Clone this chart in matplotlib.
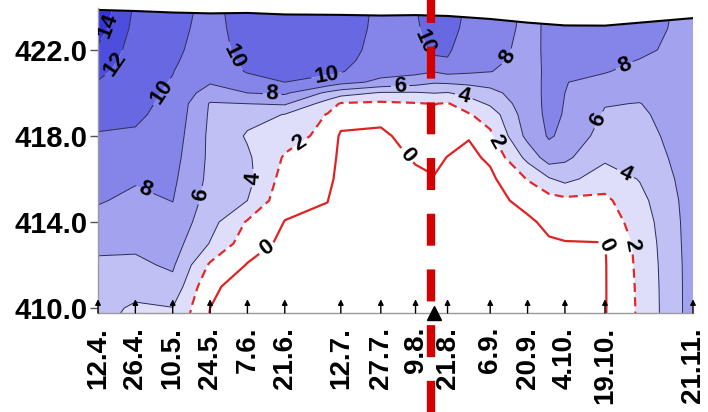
import numpy as np
import matplotlib
matplotlib.use("Agg")
import matplotlib.pyplot as plt
from matplotlib.transforms import blended_transform_factory

plt.rcParams['font.family'] = ['Liberation Sans', 'DejaVu Sans']
plt.rcParams['lines.scale_dashes'] = False

# sampling dates (day of year) and their labels
sample_days = [102, 116, 130, 144, 158, 172, 193, 208, 221, 233, 249, 263, 277, 292, 325]
sample_labels = ['12.4.', '26.4.', '10.5.', '24.5.', '7.6.', '21.6.', '12.7.', '27.7.',
                 '9.8.', '21.8.', '6.9.', '20.9.', '4.10.', '19.10.', '21.11.']
# water surface elevation at each sampling date
surface_level = [423.86, 423.81, 423.74, 423.70, 423.72, 423.65, 423.63, 423.60,
                 423.62, 423.58, 423.44, 423.27, 423.14, 423.13, 423.48]

# temperature grid (columns = days, rows = elevations top->bottom)
grid_days = [102, 116, 130, 144, 158, 172, 188, 193, 208, 221, 228, 233, 241, 249,
             263, 271, 277, 292, 305, 325]
grid_elev = [424, 423, 422, 421.5, 421, 420.5, 420, 419.5, 419, 418, 417, 416, 415,
             414, 413, 412, 411, 410, 409.5]
temp_profiles = [
    [15.5, 14.9, 13.7, 13.1, 12.5, 11.9, 11.5, 11.05, 10.6, 9.85, 9.3, 8.7, 8.17, 7.35, 6.4, 5.7, 5.2, 4.7, 4.5],
    [11.7, 11.4, 11.1, 11.0, 10.9, 10.75, 10.6, 10.45, 10.3, 9.78, 9.0, 8.2, 7.56, 6.96, 6.35, 5.64, 4.78, 3.7, 3.5],
    [11.0, 10.7, 10.4, 10.25, 10.05, 9.89, 9.72, 9.55, 9.38, 9.05, 8.7, 8.37, 8.04, 7.47, 6.87, 6.28, 5.38, 3.95, 3.7],
    [9.3, 9.2, 9.1, 8.9, 8.6, 8.2, 7.0, 5.85, 5.75, 5.6, 5.6, 5.5, 5.2, 4.7, 3.9, 1.7, 0.35, 0.0, -0.15],
    [11.2, 11.0, 10.7, 10.45, 10.15, 9.2, 8.0, 6.0, 4.6, 3.8, 4.3, 4.6, 4.0, 1.8, 0.87, -0.1, -0.8, -0.9, -0.9],
    [11.6, 11.4, 11.0, 10.75, 10.45, 10.0, 8.3, 6.25, 3.95, 2.8, 1.8, 1.17, 0.56, -0.05, -0.4, -0.6, -0.7, -0.8, -0.8],
    [11.5, 11.3, 11.0, 10.7, 10.35, 9.3, 5.6, 3.1, 1.9, 1.45, 0.95, 0.5, 0.03, -0.3, -0.5, -0.6, -0.7, -0.8, -0.8],
    [11.4, 11.2, 10.9, 10.6, 10.15, 8.6, 4.9, 1.8, 1.0, -0.3, -0.5, -0.6, -0.7, -0.8, -0.8, -0.9, -0.9, -1.0, -1.0],
    [9.5, 9.4, 9.2, 9.0, 8.6, 7.6, 3.8, 1.6, 0.6, -0.4, -0.6, -0.7, -0.8, -0.8, -0.9, -0.9, -1.0, -1.0, -1.0],
    [9.9, 9.6, 9.3, 9.0, 8.5, 6.9, 3.8, 1.85, 1.4, 0.85, 0.15, -0.3, -0.5, -0.6, -0.7, -0.8, -0.8, -0.9, -0.9],
    [11.6, 11.2, 10.4, 9.6, 8.1, 6.2, 4.05, 2.05, 1.6, 1.0, 0.45, -0.1, -0.4, -0.5, -0.6, -0.7, -0.8, -0.8, -0.8],
    [10.6, 10.5, 10.2, 9.9, 8.6, 6.3, 3.9, 1.85, 1.45, 0.8, -0.05, -0.4, -0.6, -0.7, -0.7, -0.8, -0.8, -0.9, -0.9],
    [9.8, 9.6, 9.2, 8.8, 8.3, 6.5, 4.6, 3.1, 1.85, 0.1, -0.4, -0.6, -0.7, -0.7, -0.8, -0.8, -0.9, -0.9, -0.9],
    [9.3, 9.1, 8.8, 8.5, 8.05, 6.7, 5.4, 4.3, 2.9, 1.6, 0.3, -0.4, -0.6, -0.7, -0.7, -0.8, -0.8, -0.8, -0.8],
    [7.6, 7.5, 7.35, 7.3, 7.25, 7.2, 7.2, 7.15, 7.1, 6.6, 4.6, 2.1, 0.55, -0.3, -0.5, -0.6, -0.6, -0.7, -0.7],
    [8.2, 8.3, 8.4, 8.4, 8.4, 8.45, 8.45, 8.45, 8.4, 8.2, 7.0, 3.8, 1.2, 0.4, -0.2, -0.4, -0.5, -0.5, -0.5],
    [8.9, 8.8, 8.6, 8.4, 8.2, 8.05, 8.0, 7.95, 7.9, 7.6, 6.4, 4.6, 1.5, 0.75, -0.1, -0.3, -0.4, -0.5, -0.5],
    [8.8, 8.7, 8.5, 8.3, 8.1, 7.5, 6.8, 6.1, 5.8, 5.1, 4.4, 2.9, 1.6, 0.9, -0.05, -0.1, -0.1, -0.1, -0.1],
    [8.6, 8.5, 8.25, 7.95, 7.5, 7.0, 6.45, 5.95, 5.7, 5.3, 4.8, 4.1, 3.4, 2.9, 2.6, 2.45, 2.35, 2.3, 2.3],
    [7.6, 7.55, 7.5, 7.45, 7.4, 7.35, 7.3, 7.25, 7.2, 7.1, 7.05, 7.0, 6.95, 6.95, 6.95, 6.9, 6.9, 6.9, 6.9],
]
fill_levels = [-5, 2, 4, 6, 8, 10, 12, 14, 20]
fill_colors = ['#ffffff', '#dedefa', '#c0c0f4', '#a2a2ef', '#8585e9', '#6868e3', '#4e4ede', '#3535d8']
line_levels = [4, 6, 8, 10, 12, 14]
marker_day = 228
section_day = 226.7

# label anchor positions (day, elevation)
label_pos_black = [(104.6, 423.16), (109.1, 421.3), (126.0, 420.05), (152.2, 421.63),
                   (187.8, 420.74), (226.4, 422.47), (121.5, 416.09), (167.2, 419.9),
                   (253.8, 421.77), (299.5, 421.2), (144.0, 415.16), (215.2, 420.37),
                   (287.5, 418.88), (161.6, 416.05), (238.8, 419.67), (300.3, 416.42)]
label_pos_two = [(175.1, 418.14), (252.7, 417.81), (302.1, 412.93)]
label_pos_zero = [(163.8, 413.02), (218.9, 417.21), (291.3, 412.93)]

W, H = 708, 412
fig = plt.figure(figsize=(W / 100, H / 100), dpi=100)
ax = fig.add_axes([98 / W, 1 - 313 / H, (693 - 98) / W, (313 - 8) / H])

X = np.array(grid_days, dtype=float)
Y = np.array(grid_elev[::-1], dtype=float)
T = np.array(temp_profiles, dtype=float).T[::-1, :]

ax.contourf(X, Y, T, levels=fill_levels, colors=fill_colors, antialiased=True)
cs_lines = ax.contour(X, Y, T, levels=line_levels, colors='#2a2a55', linewidths=0.7)
cs_two = ax.contour(X, Y, T, levels=[2], colors='#e02a2a', linewidths=1.6,
                    linestyles=[(0, (6.5, 3.8))])
cs_zero = ax.contour(X, Y, T, levels=[0], colors='#e02222', linewidths=1.6)

lab_kw = dict(fmt='%d', fontsize=16, colors='black', inline=True, inline_spacing=3)
for cs, pos in [(cs_lines, label_pos_black), (cs_two, label_pos_two), (cs_zero, label_pos_zero)]:
    txts = ax.clabel(cs, manual=pos, **lab_kw)
    for t in txts:
        t.set_fontweight('bold')

# blank above the water surface and the surface line
ax.fill_between(sample_days, surface_level, 426, color='white', zorder=2.5, lw=0)
ax.plot(sample_days, surface_level, color='black', lw=1.5, zorder=2.6)

ax.set_xlim(102, 325)
ax.set_ylim(409.77, 423.95)

ax.set_yticks([410, 414, 418, 422])
ax.set_yticklabels(['410.0', '414.0', '418.0', '422.0'], fontsize=21, fontweight='bold')
ax.tick_params(axis='y', direction='out', length=6, width=1, pad=1.5, colors='#555555',
               labelcolor='black')
ax.set_xticks(sample_days)
ax.set_xticklabels(sample_labels, rotation=90, fontsize=20, fontweight='bold')
ax.tick_params(axis='x', length=0, pad=10)

for s in ['top', 'right']:
    ax.spines[s].set_visible(False)
for s in ['left', 'bottom']:
    ax.spines[s].set_color('#9a9a9a')
    ax.spines[s].set_linewidth(1)
    ax.spines[s].set_zorder(3)

# sampling arrows on the bottom axis
bt = blended_transform_factory(ax.transData, ax.transAxes)
for d in sample_days:
    ax.annotate('', xy=(d, 0.045), xytext=(d, 0.0), xycoords=bt, textcoords=bt,
                arrowprops=dict(arrowstyle='-|>', color='black', lw=1, mutation_scale=8,
                                shrinkA=0, shrinkB=0), annotation_clip=False, zorder=4)
ax.plot([marker_day], [0.0], marker='^', color='black', markersize=10, transform=bt,
        clip_on=False, zorder=5)

# vertical dashed section line across the whole figure
ft = blended_transform_factory(ax.transData, fig.transFigure)
ax.plot([section_day, section_day], [1, 0], transform=ft, color='#d40000', lw=6,
        linestyle=(6.5, (23, 17.1)), clip_on=False, zorder=10, solid_capstyle='butt',
        dash_capstyle='butt')

fig.savefig('out.png', dpi=100)
